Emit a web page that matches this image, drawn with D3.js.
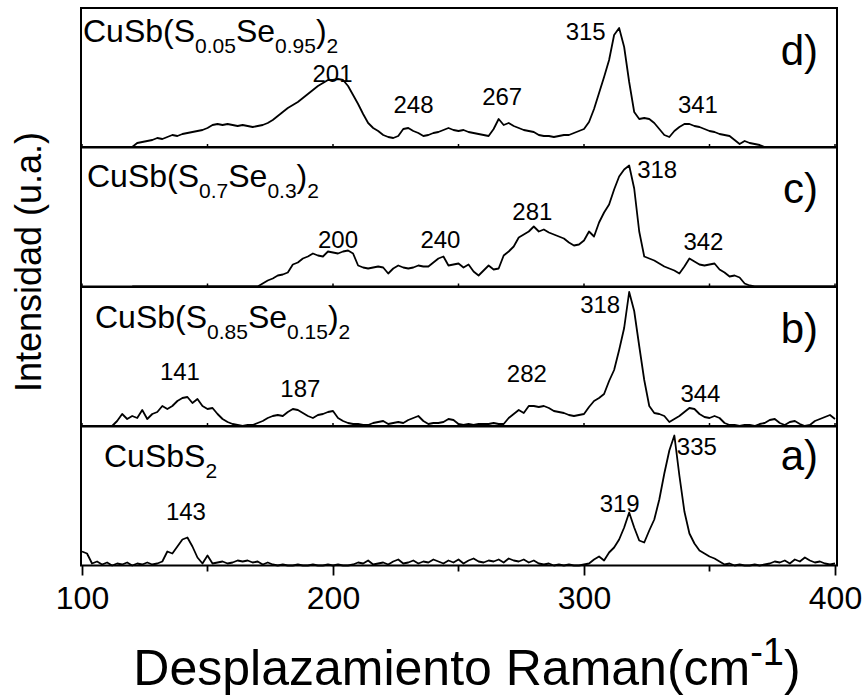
<!DOCTYPE html>
<html>
<head>
<meta charset="utf-8">
<script src="https://cdn.jsdelivr.net/npm/d3@7"></script>
<style>
  body { margin: 0; background: #fff; }
  svg { display: block; }
  text { font-family: "Liberation Sans", Arial, sans-serif; fill: #000; }
</style>
</head>
<body>
<svg id="chart" width="865" height="698"></svg>
<script>
// Raman shift sampling grid (cm^-1), 2 cm^-1 step
const ramanShift = d3.range(100, 401, 2);

// Intensities (a.u.) on that grid, one spectrum per sample; null = not measured
const intensityD = [
  0,0,0,0,0,0,0,0,0,0,
  0,4,5,6,7,9,8,10,12,11,
  13,14,15,16,17,19,22,23,22,23,
  22,21,22,21,20,21,22,24,27,31,
  35,39,42,45,49,53,57,61,64,67,
  67,68,67,61,52,43,33,24,19,16,
  12,10,9,11,18,19,16,14,11,12,
  14,15,17,19,17,16,17,15,14,13,
  12,11,18,28,22,24,21,19,17,16,
  15,12,11,11,10,11,12,12,14,16,
  18,25,38,54,70,87,112,119,100,65,
  35,28,29,28,24,18,12,10,16,20,
  23,23,21,20,18,16,15,13,12,11,
  7,3,6,4,3,2,0,0,0,0,
  0,0,0,0,0,0,0,0,0,0,
  0
];
const intensityC = [
  null,null,null,null,null,null,null,null,null,null,
  0,0,0,0,0,0,0,0,0,0,
  0,0,0,0,0,0,0,0,0,0,
  0,0,0,0,0,0,3,6,8,11,
  12,14,22,24,28,30,33,31,30,35,
  34,33,35,36,33,21,19,18,19,20,
  19,13,18,21,19,18,19,21,20,20,
  24,28,30,21,22,23,19,22,15,11,
  16,21,17,18,31,35,40,49,52,55,
  60,55,57,54,52,50,48,44,41,42,
  46,55,50,64,74,82,97,110,117,121,
  98,55,30,28,26,23,20,18,16,13,
  20,28,25,22,21,22,23,17,14,10,
  11,9,3,1,0,0,0,0,0,0,
  0,0,0,0,0,0,0,0,0,0,
  0
];
const intensityB = [
  null,null,null,null,null,null,0,5,12,7,
  10,8,16,7,12,14,20,17,20,25,
  28,29,23,27,20,17,18,12,7,4,
  2,1,0,1,1,3,5,8,10,11,
  10,14,17,16,13,10,8,11,12,14,
  15,8,5,3,2,2,1,1,3,4,
  5,2,3,4,3,6,8,10,5,2,
  3,3,4,7,6,2,1,2,1,2,
  2,2,3,2,2,8,12,16,13,20,
  20,19,20,18,15,14,13,11,10,11,
  12,19,25,28,32,45,56,76,98,134,
  115,80,46,20,13,12,10,4,7,10,
  14,18,17,12,9,8,10,8,3,1,
  1,0,1,1,0,2,3,6,7,3,
  1,4,5,2,0,1,5,7,9,11,
  7
];
const intensityA = [
  14,12,2,4,1,3,0,2,1,3,
  0,2,1,3,1,2,4,14,12,19,
  26,28,19,8,2,10,2,3,4,2,
  3,5,4,5,3,4,1,3,1,0,
  1,0,0,1,0,0,1,0,0,1,
  0,1,0,0,1,3,2,5,1,2,
  3,1,4,6,2,3,5,2,4,3,
  6,4,2,5,3,6,2,5,7,4,
  3,5,4,6,3,7,5,4,6,3,
  5,2,1,2,0,1,0,1,0,0,
  1,2,6,9,5,13,18,26,38,53,
  38,25,23,35,46,66,92,115,130,90,
  54,32,22,15,12,9,7,4,1,2,
  0,1,0,0,1,0,1,2,4,3,
  5,2,6,4,8,5,3,4,2,1,
  2
];

// Assigned band positions (cm^-1) for each sample
const peaksD = [201, 248, 267, 315, 341];
const peaksC = [200, 240, 281, 318, 342];
const peaksB = [141, 187, 282, 318, 344];
const peaksA = [143, 319, 335];

// Sample formulas: [text, isSubscript]
const nameD = [["CuSb(S",0],["0.05",1],["Se",0],["0.95",1],[")",0],["2",1]];
const nameC = [["CuSb(S",0],["0.7",1],["Se",0],["0.3",1],[")",0],["2",1]];
const nameB = [["CuSb(S",0],["0.85",1],["Se",0],["0.15",1],[")",0],["2",1]];
const nameA = [["CuSbS",0],["2",1]];

const panelTags = ["d)", "c)", "b)", "a)"];
const majorTicks = [100, 200, 300, 400];
const minorTicks = [150, 250, 350];
const xTitle = "Desplazamiento Raman(cm";
const xTitleSup = "-1";
const yTitle = "Intensidad (u.a.)";

// ---- layout ----
const FONT = "'Liberation Sans', Arial, sans-serif";
const svg = d3.select("#chart");
const left = 82, right = 835;
const panelTop0 = 8, panelStep = 139.5, panelH = 139;
const x = d3.scaleLinear().domain([100, 400]).range([left, right]);

const panels = [
  { data: intensityD, peaks: peaksD, name: nameD, nameX: 83, nameY: 34,
    tagY: 57,
    lab: [[-3,74,"middle"],[-40,105,"middle"],[1,97,"middle"],[-36,32,"middle"],[11,105,"middle"]] },
  { data: intensityC, peaks: peaksC, name: nameC, nameX: 87, nameY: 39.5,
    tagY: 55.5,
    lab: [[5,100.5,"middle"],[7,100.5,"middle"],[-4,72.5,"middle"],[8,30.5,"start"],[14,102.5,"middle"]] },
  { data: intensityB, peaks: peaksB, name: nameB, nameX: 95, nameY: 41,
    tagY: 56,
    lab: [[-5,93,"middle"],[0,110,"middle"],[-12,95,"middle"],[-9,26,"end"],[6,115,"middle"]] },
  { data: intensityA, peaks: peaksA, name: nameA, nameX: 104, nameY: 40.5,
    tagY: 43.5,
    lab: [[-4,93.5,"middle"],[-12,85.5,"middle"],[5,28.5,"start"]] }
];

panels.forEach((p, i) => {
  const top = panelTop0 + i * panelStep;
  const bottom = top + panelH;
  const y = d3.scaleLinear().domain([0, 139]).range([bottom, top]);
  const g = svg.append("g");

  // spectrum
  const pts = ramanShift.map((s, k) => [s, p.data[k]]);
  g.append("path")
    .datum(pts)
    .attr("fill", "none")
    .attr("stroke", "#000")
    .attr("stroke-width", 1.8)
    .attr("stroke-linejoin", "round")
    .attr("d", d3.line()
      .defined(d => d[1] !== null)
      .x(d => x(d[0]))
      .y(d => y(d[1])));

  // frame
  g.append("rect")
    .attr("x", left - 1).attr("y", top)
    .attr("width", right - left + 3).attr("height", panelH)
    .attr("fill", "none").attr("stroke", "#000").attr("stroke-width", 2);

  // small inward ticks on stacked panels
  if (i < panels.length - 1) {
    g.selectAll("line.in")
      .data(majorTicks.concat(minorTicks))
      .join("line")
      .attr("x1", d => x(d)).attr("x2", d => x(d))
      .attr("y1", bottom).attr("y2", bottom - 3)
      .attr("stroke", "#000").attr("stroke-width", 1.5);
  }

  // sample name with subscripts
  const t = g.append("text").attr("x", p.nameX).attr("y", top + p.nameY);
  let lowered = false;
  p.name.forEach(([s, sub]) => {
    const ts = t.append("tspan").text(s).attr("font-size", sub ? 21 : 32);
    if (sub && !lowered) { ts.attr("dy", 11); lowered = true; }
    else if (!sub && lowered) { ts.attr("dy", -11); lowered = false; }
  });

  // panel tag
  g.append("text")
    .attr("x", 818).attr("y", top + p.tagY)
    .attr("text-anchor", "end")
    .attr("font-size", 42)
    .text(panelTags[i]);

  // band labels
  g.selectAll("text.peak")
    .data(p.peaks)
    .join("text")
    .attr("class", "peak")
    .attr("x", (d, k) => x(d) + p.lab[k][0])
    .attr("y", (d, k) => top + p.lab[k][1])
    .attr("text-anchor", (d, k) => p.lab[k][2])
    .attr("font-size", 24)
    .text(d => d);
});

// bottom axis
const axisY = panelTop0 + 3 * panelStep + panelH;
const axis = svg.append("g")
  .attr("transform", `translate(0,${axisY})`)
  .call(d3.axisBottom(x).tickValues(majorTicks).tickSize(10).tickPadding(11).tickFormat(d3.format("d")));
axis.select(".domain").remove();
axis.selectAll(".tick line").attr("stroke-width", 1.8);
axis.selectAll(".tick text").attr("font-size", 32).attr("font-family", FONT).attr("fill", "#000");

svg.append("g")
  .attr("transform", `translate(0,${axisY})`)
  .selectAll("line")
  .data(minorTicks)
  .join("line")
  .attr("x1", d => x(d)).attr("x2", d => x(d))
  .attr("y1", 0).attr("y2", 6)
  .attr("stroke", "#000").attr("stroke-width", 1.8);

// axis titles
const xt = svg.append("text")
  .attr("x", 467).attr("y", 685)
  .attr("text-anchor", "middle")
  .attr("font-size", 50);
xt.append("tspan").text(xTitle);
xt.append("tspan").text(xTitleSup).attr("font-size", 38).attr("dy", -20);
xt.append("tspan").text(")").attr("dy", 20);

svg.append("text")
  .attr("transform", "translate(41,262) rotate(-90)")
  .attr("text-anchor", "middle")
  .attr("font-size", 36)
  .text(yTitle);
</script>
</body>
</html>
